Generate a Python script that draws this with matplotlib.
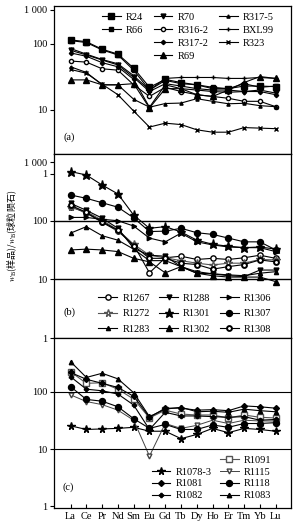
import matplotlib
matplotlib.use('Agg')
import matplotlib.pyplot as plt
from matplotlib.lines import Line2D

plt.rcParams['font.family'] = ['Liberation Serif', 'DejaVu Serif']
plt.rcParams['mathtext.fontset'] = 'stix'

elements = ['La', 'Ce', 'Pr', 'Nd', 'Sm', 'Eu', 'Gd', 'Tb', 'Dy', 'Ho', 'Er', 'Tm', 'Yb', 'Lu']

# panel (a)
R24 = [115, 108, 83, 70, 43, 22, 29, 26, 24, 21, 21, 23, 23, 22.5]
R66 = [112, 105, 81, 68, 40, 20, 28, 25, 24, 22, 21, 25, 22, 23]
R70 = [80, 68, 57, 48, 31, 19, 25, 23, 21, 20, 20, 19, 20, 18]
R316_2 = [55, 53, 42, 40, 24, 16, 22, 19, 17, 16, 15, 13.5, 13.5, 11.2]
R317_2 = [73, 65, 52, 45, 29, 11, 24, 21, 20, 19, 18.5, 19, 19, 17]
R69 = [28.5, 28.5, 24, 24, 25, 10.7, 21, 21, 17, 16, 20, 26, 32, 30]
R317_5 = [45, 37, 24, 24, 14.5, 11, 12.5, 12.7, 14.8, 13.5, 12.4, 12.6, 11.6, 11.2]
BXL99 = [85, 70, 58, 50, 33, 20, 30, 31, 31, 31, 30, 30, 31, 30]
R323 = [41, 36, 24.5, 17, 9.6, 5.5, 6.3, 6, 5, 4.6, 4.6, 5.4, 5.3, 5.2]

# panel (b)
R1267 = [176, 137, 95, 67, 39, 13, 23.5, 25, 22, 23, 22, 23.5, 26, 23]
R1272 = [172, 144, 103, 70, 40, 26, 23.5, 21, 19, 17.7, 19, 19, 22, 21.6]
R1283 = [62, 80, 56, 47, 33, 21, 21, 16.6, 13.6, 12.5, 12, 11.6, 12.8, 13.6]
R1288 = [200, 152, 112, 75, 34, 26, 25, 16.6, 12.8, 12.5, 11.6, 11.2, 14.5, 14.5]
R1301 = [700, 610, 412, 290, 126, 75, 80, 65, 47, 40, 37, 35, 36, 33]
R1302 = [32, 33, 32, 30, 23, 20, 13, 16.6, 12.8, 11.6, 11, 11, 11, 9.2]
R1306 = [115, 115, 107, 101, 82, 51, 44, 62, 44, 39, 36, 35, 35, 30]
R1307 = [278, 244, 205, 172, 113, 66, 67, 75, 63, 59, 51, 44, 44, 32]
R1308 = [186, 140, 97, 70, 38, 23, 23, 19, 18, 15, 16.6, 18, 21.6, 20]

# panel (c)
R1091 = [227, 142, 145, 112, 75, 35, 48, 41, 39.5, 39.5, 35, 39.5, 36, 35]
R1078_3 = [25.5, 22, 22.5, 23, 24, 20.5, 20.5, 15.2, 18, 23, 19.3, 23, 22, 20.5]
R1115 = [89, 68, 60, 48, 32, 7.5, 28, 23, 26, 32, 28, 32, 31, 31]
R1081 = [220, 167, 142, 120, 84, 36, 52, 52, 48, 49, 47, 57, 55, 52]
R1118 = [124, 74, 69, 55, 34, 23, 27, 22, 22, 26.4, 24, 28, 28, 29]
R1082 = [185, 112, 105, 92, 59, 22, 44, 38, 38, 37, 36, 37, 32, 33]
R1083 = [340, 180, 213, 170, 97, 37, 50, 54, 45, 46, 44, 50, 47, 45]

x = list(range(len(elements)))

W, H = 297, 526
fig = plt.figure(figsize=(W / 100, H / 100), dpi=100)

left = 54 / W
width = (291 - 54) / W


def make_ax(top_px, bot_px):
    return fig.add_axes([left, (H - bot_px) / H, width, (bot_px - top_px) / H])


def style_ax(ax, ylim):
    ax.set_yscale('log')
    ax.set_ylim(*ylim)
    ax.set_xlim(-1.05, 13.97)
    ax.minorticks_off()
    ax.yaxis.set_minor_locator(matplotlib.ticker.NullLocator())
    ax.tick_params(axis='y', direction='out', length=3, width=0.8, labelsize=7.5, pad=2)
    ax.tick_params(axis='x', direction='in', length=3, width=0.8, labelsize=7.5, pad=3)
    for s in ax.spines.values():
        s.set_linewidth(0.9)


blank = Line2D([], [], linestyle='none', marker='none')
kw = dict(color='black', lw=0.8, markeredgecolor='black')

# ---------------- (a)
axa = make_ax(6, 154)
style_ax(axa, (2.15, 375))
h = {}
h['R24'], = axa.plot(x, R24, marker='s', ms=3.8, **kw)
h['R66'], = axa.plot(x, R66, marker='s', ms=3.0, **kw)
h['R70'], = axa.plot(x, R70, marker='v', ms=3.5, **kw)
h['R316-2'], = axa.plot(x, R316_2, marker='o', ms=3.0, mfc='white', **kw)
h['R317-2'], = axa.plot(x, R317_2, marker='D', ms=2.2, **kw)
h['R69'], = axa.plot(x, R69, marker='^', ms=3.8, **kw)
h['R317-5'], = axa.plot(x, R317_5, marker='^', ms=2.3, **kw)
h['BXL99'], = axa.plot(x, BXL99, marker='+', ms=3.0, **kw)
h['R323'], = axa.plot(x, R323, marker='x', ms=3.0, **kw)
axa.set_yticks([10, 100, 330])
axa.set_yticklabels(['10', '100', '1 000'])
axa.set_xticks(x)
axa.tick_params(axis='x', labelbottom=False, length=0)
order_a = ['R24', 'R66', None, None, 'R70', 'R316-2', 'R317-2', 'R69', 'R317-5', 'BXL99', 'R323', None]
axa.legend([h[k] if k else blank for k in order_a], [k if k else '' for k in order_a],
           ncol=3, loc='upper left', bbox_to_anchor=(0.18, 0.99), frameon=False, fontsize=7.5,
           borderpad=0, handlelength=1.8, handletextpad=0.5, columnspacing=1.0, labelspacing=0.35)
axa.text(0.065, 0.115, '(a)', transform=axa.transAxes, ha='center', va='center', fontsize=7.5)

# ---------------- (b)
axb = make_ax(154, 338)
style_ax(axb, (1, 1396))
h = {}
h['R1267'], = axb.plot(x, R1267, marker='o', ms=3.8, mfc='white', **kw)
h['R1272'], = axb.plot(x, R1272, marker='*', ms=5.5, mfc='white', color='#555555', lw=0.8, mec='#555555')
h['R1283'], = axb.plot(x, R1283, marker='^', ms=3.0, **kw)
h['R1288'], = axb.plot(x, R1288, marker='v', ms=3.5, **kw)
h['R1301'], = axb.plot(x, R1301, marker='*', ms=6.5, **kw)
h['R1302'], = axb.plot(x, R1302, marker='^', ms=3.8, **kw)
h['R1306'], = axb.plot(x, R1306, marker='>', ms=3.2, **kw)
h['R1307'], = axb.plot(x, R1307, marker='o', ms=4.3, **kw)
h['R1308'], = axb.plot(x, R1308, marker='o', ms=3.5, mfc='white', mew=1.4, **kw)
for g in (10, 100):
    axb.axhline(g, color='black', lw=1.0)
axb.set_yticks([1, 10, 100, 1000, 636])
axb.set_yticklabels(['1', '10', '100', '1 000', '1'])
axb.set_xticks(x)
axb.tick_params(axis='x', labelbottom=False, length=0)
order_b = ['R1267', 'R1272', 'R1283', 'R1288', 'R1301', 'R1302', 'R1306', 'R1307', 'R1308']
axb.legend([h[k] for k in order_b], order_b, ncol=3, loc='upper left', bbox_to_anchor=(0.165, 0.27),
           frameon=False, fontsize=7.5, borderpad=0, handlelength=1.8, handletextpad=0.5,
           columnspacing=0.9, labelspacing=0.6)
axb.text(0.065, 0.141, '(b)', transform=axb.transAxes, ha='center', va='center', fontsize=7.5)

# ---------------- (c)
axc = make_ax(338, 508)
style_ax(axc, (0.923, 885))
h = {}
h['R1091'], = axc.plot(x, R1091, marker='s', ms=3.8, mfc='white', color='#555555', lw=0.8, mec='#555555')
h['R1078-3'], = axc.plot(x, R1078_3, marker='*', ms=5.5, **kw)
h['R1115'], = axc.plot(x, R1115, marker='v', ms=3.5, mfc='white', color='#444444', lw=0.7, mec='#444444')
h['R1081'], = axc.plot(x, R1081, marker='D', ms=3.0, **kw)
h['R1118'], = axc.plot(x, R1118, marker='o', ms=4.3, **kw)
h['R1082'], = axc.plot(x, R1082, marker='P', ms=3.0, **kw)
h['R1083'], = axc.plot(x, R1083, marker='^', ms=3.2, **kw)
for g in (10, 100):
    axc.axhline(g, color='black', lw=0.8)
axc.set_yticks([1, 10, 100])
axc.set_yticklabels(['1', '10', '100'])
axc.set_xticks(x)
axc.set_xticklabels(elements)
order_c = [None, 'R1078-3', 'R1081', 'R1082', 'R1091', 'R1115', 'R1118', 'R1083']
axc.legend([h[k] if k else blank for k in order_c], [k if k else '' for k in order_c],
           ncol=2, loc='upper left', bbox_to_anchor=(0.39, 0.34), frameon=False, fontsize=7.5,
           borderpad=0, handlelength=1.8, handletextpad=0.5, columnspacing=0.8, labelspacing=0.25)
axc.text(0.06, 0.124, '(c)', transform=axc.transAxes, ha='center', va='center', fontsize=7.5)

fig.text(12 / W, 1 - 236 / H, r'$w_{\rm B}$(样品)/$w_{\rm B}$(球粒陨石)', rotation=90,
         ha='center', va='center', fontsize=6.5, family=['Noto Sans CJK SC', 'DejaVu Sans'])

fig.savefig('out.png', dpi=100)
